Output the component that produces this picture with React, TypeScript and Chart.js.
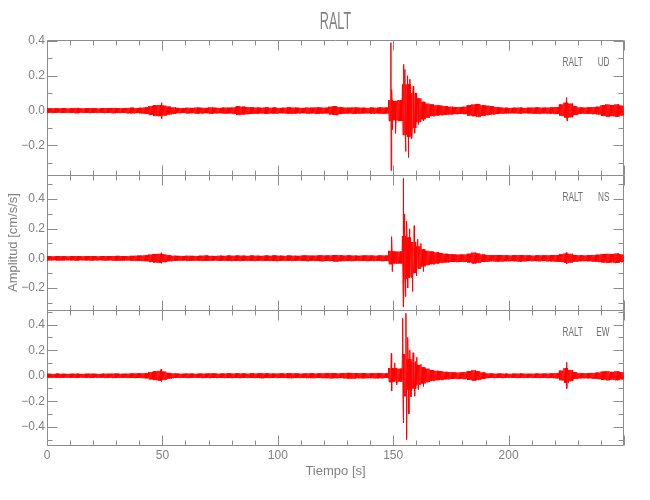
import { useEffect, useRef } from 'react';
import { Chart, registerables } from 'chart.js';

Chart.register(...registerables);

// ---------------- data ----------------
const station = 'RALT';
const components = ['UD', 'NS', 'EW'];
const BIN = 2; // seconds per envelope bin (bins start at t = 0)

// Dense-core envelope of each trace, in thousandths of cm/s/s, one value per 2-s bin (0..250 s)
const udUp = [
  12, 13, 12, 14, 12, 13, 15, 12, 13, 14, 13, 12, 14, 13, 15, 14, 13, 15, 16, 14,
  16, 18, 25, 30, 32, 28, 22, 18,
  15, 14, 16, 15, 17, 16, 15, 18, 16, 15, 17, 16, 18,
  25, 22, 20, 18,
  17, 16, 18, 16, 17, 15, 16, 18, 17, 16, 15, 17, 16, 18, 17, 16,
  22, 26, 20,
  17, 16, 18, 17, 16, 15, 17, 16, 18, 17,
  60, 55, 60, 150, 150, 100, 70, 50, 40, 35, 30, 28, 25, 22, 20, 20, 22, 30, 35, 38, 30, 28, 25, 20,
  17, 16, 15, 16, 17, 15, 16, 17, 18, 16, 17, 18, 20,
  35, 45, 40, 25,
  18, 17, 18, 20, 22,
  30, 35, 32, 35, 28,
];
const udDown = [
  12, 13, 12, 14, 12, 13, 15, 12, 13, 14, 13, 12, 14, 13, 15, 14, 13, 15, 16, 14,
  16, 18, 25, 30, 32, 28, 22, 18,
  15, 14, 16, 15, 17, 16, 15, 18, 16, 15, 17, 16, 18,
  25, 22, 20, 18,
  17, 16, 18, 16, 17, 15, 16, 18, 17, 16, 15, 17, 16, 18, 17, 16,
  22, 26, 20,
  17, 16, 18, 17, 16, 15, 17, 16, 18, 17,
  60, 55, 60, 140, 150, 100, 65, 50, 40, 32, 28, 26, 24, 22, 20, 19, 20, 28, 32, 35, 30, 25, 22, 20,
  17, 16, 15, 16, 17, 15, 16, 17, 18, 16, 17, 18, 20,
  30, 40, 38, 25,
  18, 17, 18, 20, 22,
  30, 35, 32, 35, 28,
];
const nsUp = [
  14, 13, 15, 14, 13, 14, 15, 13, 14, 15, 14, 13, 15, 14, 15, 16, 15, 14, 16, 17,
  18, 20, 25, 28, 30, 26, 20, 17,
  16, 15, 17, 16, 15, 17, 18, 16, 15, 17, 16, 18, 17,
  18, 17, 16, 18, 17, 16, 18, 17, 19, 17, 16, 18, 17, 16, 18, 19, 17, 18, 20, 18,
  19, 22, 20, 18, 19, 18, 17, 18, 19, 18, 17, 19, 18,
  50, 45, 45, 150, 140, 110, 80, 60, 50, 45, 40, 35, 30, 28, 25, 25, 25, 30, 38, 32, 25,
  22, 20, 22, 21, 20, 19, 20, 22, 20, 19, 18, 20, 19, 20, 21, 22,
  28, 32, 30, 22,
  20, 19, 20, 22, 24,
  28, 30, 28, 32, 25,
];
const nsDown = [
  14, 13, 15, 14, 13, 14, 15, 13, 14, 15, 14, 13, 15, 14, 15, 16, 15, 14, 16, 17,
  18, 20, 25, 28, 30, 26, 20, 17,
  16, 15, 17, 16, 15, 17, 18, 16, 15, 17, 16, 18, 17,
  18, 17, 16, 18, 17, 16, 18, 17, 19, 17, 16, 18, 17, 16, 18, 19, 17, 18, 20, 18,
  19, 22, 20, 18, 19, 18, 17, 18, 19, 18, 17, 19, 18,
  40, 35, 35, 140, 130, 100, 70, 55, 45, 40, 35, 30, 28, 25, 25, 25, 24, 28, 35, 30, 25,
  22, 20, 22, 21, 20, 19, 20, 22, 20, 19, 18, 20, 19, 20, 21, 22,
  25, 30, 28, 22,
  20, 19, 20, 22, 24,
  28, 30, 28, 32, 25,
];
const ewUp = [
  15, 14, 16, 15, 14, 15, 16, 14, 15, 16, 15, 14, 16, 15, 17, 16, 15, 16, 17, 18,
  18, 20, 28, 34, 38, 32, 22, 18,
  16, 15, 17, 16, 15, 17, 16, 18, 17, 16, 17, 18, 17, 18, 17, 16, 18, 17, 19, 18,
  17, 16, 18, 17, 19, 18, 17, 16, 18, 19, 17, 18, 19, 20, 19, 18, 20, 22, 21, 19,
  20, 18, 19, 20, 19, 18,
  60, 60, 55, 170, 130, 110, 85, 65, 55, 45, 38, 35, 30, 28, 25, 25, 28, 35, 42, 35, 25,
  18, 17, 16, 17, 16, 15, 16, 17, 16, 15, 16, 17, 16, 17, 18, 20,
  40, 60, 45, 28,
  20, 19, 20, 22, 25,
  32, 35, 30, 35, 28,
];
const ewDown = [
  15, 14, 16, 15, 14, 15, 16, 14, 15, 16, 15, 14, 16, 15, 17, 16, 15, 16, 17, 18,
  18, 20, 28, 34, 38, 32, 22, 18,
  16, 15, 17, 16, 15, 17, 16, 18, 17, 16, 17, 18, 17, 18, 17, 16, 18, 17, 19, 18,
  17, 16, 18, 17, 19, 18, 17, 16, 18, 19, 17, 18, 19, 20, 19, 18, 20, 22, 21, 19,
  20, 18, 19, 20, 19, 18,
  50, 45, 45, 160, 110, 100, 70, 60, 50, 40, 35, 32, 28, 26, 24, 25, 26, 32, 38, 32, 25,
  18, 17, 16, 17, 16, 15, 16, 17, 16, 15, 16, 17, 16, 17, 18, 20,
  35, 55, 42, 25,
  20, 19, 20, 22, 25,
  32, 35, 30, 35, 28,
];

// Individual peaks (time s, amplitude cm/s/s)
const udSpikeT = [49.5, 49.8, 149.0, 149.1, 149.4, 149.6, 151.0, 154.6, 155.1, 155.4, 156.2, 156.5, 157.2, 158.0, 158.7, 159.3, 160.1, 160.9, 162.0, 163.0, 225.0, 225.4];
const udSpikeV = [0.045, -0.045, 0.39, -0.344, 0.12, -0.11, -0.13, 0.265, 0.236, -0.235, 0.2, -0.27, 0.18, -0.16, 0.14, -0.13, 0.1, -0.08, 0.07, -0.06, 0.075, -0.06];
const nsSpikeT = [49.5, 49.7, 149.3, 149.5, 154.3, 154.5, 154.9, 155.3, 155.8, 156.3, 157.0, 158.4, 159.1, 160.0, 160.6, 162.0, 163.0, 225.0, 225.3];
const nsSpikeV = [0.038, -0.035, 0.146, -0.09, 0.54, -0.33, 0.3, -0.26, 0.25, -0.2, 0.2, -0.225, 0.22, -0.12, 0.13, 0.1, -0.09, 0.04, -0.038];
const ewSpikeT = [49.4, 49.7, 149.2, 149.4, 150.6, 151.5, 154.1, 154.4, 155.5, 155.8, 156.3, 156.8, 157.2, 157.7, 158.6, 159.3, 160.2, 160.8, 162.0, 163.0, 225.0, 225.3];
const ewSpikeV = [0.05, -0.047, 0.175, -0.12, 0.1, -0.07, 0.45, -0.37, 0.49, -0.5, 0.3, -0.3, 0.2, -0.165, 0.18, -0.16, 0.145, -0.11, 0.09, -0.085, 0.105, -0.1];

// Axes
const xRange = [0, 250];
const xTickValues = [0, 50, 100, 150, 200];
const udRange = [-0.37, 0.405];
const nsRange = [-0.35, 0.563];
const ewRange = [-0.543, 0.515];
const udTicks = [-0.2, 0, 0.2, 0.4];
const nsTicks = [-0.2, 0, 0.2, 0.4];
const ewTicks = [-0.4, -0.2, 0, 0.2, 0.4];

// ---------------- styling ----------------
const FONT = "'Liberation Sans', Arial, sans-serif";
const AXIS = '#8c8c8c';
const TEXT = '#808080';
const RED = '#ff0000';
const STEPS = 8; // drawn samples per envelope bin

function buildTrace(up: number[], down: number[], st: number[], sv: number[]) {
  const pts: { x: number; y: number }[] = [];
  for (let i = 0; i < up.length; i++) {
    for (let k = 0; k < STEPS; k++) {
      pts.push({ x: i * BIN + (k * BIN) / STEPS, y: k % 2 === 0 ? up[i] / 1000 : -down[i] / 1000 });
    }
  }
  st.forEach((t, j) => pts.push({ x: t, y: sv[j] }));
  pts.sort((a, b) => a.x - b.x);
  return pts;
}

const fmtY = (v: number) => {
  const s = Math.abs(v) < 1e-9 ? '0.0' : v.toFixed(1);
  return s.replace('-', '\u2212');
};

function condensedText(ctx: any, text: string, x: number, y: number, sx: number, align: string) {
  ctx.save();
  ctx.translate(x, y);
  ctx.scale(sx, 1);
  ctx.textAlign = align;
  ctx.fillText(text, 0, 0);
  ctx.restore();
}

const panelIds = ['yUD', 'yNS', 'yEW'];

const framePlugin = {
  id: 'frame',
  beforeDatasetsDraw(chart: any) {
    const ctx = chart.ctx;
    const xs = chart.scales.x;
    ctx.save();
    ctx.strokeStyle = AXIS;
    ctx.lineWidth = 1;
    for (const id of panelIds) {
      const ys = chart.scales[id];
      const L = Math.round(xs.left) + 0.5;
      const R = Math.round(xs.right) - 0.5;
      const T = Math.round(ys.top) + 0.5;
      const B = Math.round(ys.bottom) + 0.5;
      ctx.beginPath();
      ctx.moveTo(L, T); ctx.lineTo(R, T);
      ctx.moveTo(L, B); ctx.lineTo(R, B);
      ctx.moveTo(L, T); ctx.lineTo(L, B);
      ctx.moveTo(R, T); ctx.lineTo(R, B);
      for (let v = xRange[0]; v <= xRange[1] + 1e-9; v += 10) {
        const px = Math.round(xs.getPixelForValue(v)) + 0.5;
        const len = Math.abs(v % 50) < 1e-9 ? 10 : 5;
        ctx.moveTo(px, T); ctx.lineTo(px, T + len);
        ctx.moveTo(px, B); ctx.lineTo(px, B - len);
      }
      const start = Math.ceil(ys.min * 10 - 1e-9);
      const end = Math.floor(ys.max * 10 + 1e-9);
      for (let n = start; n <= end; n++) {
        const py = Math.round(ys.getPixelForValue(n / 10)) + 0.5;
        const len = n % 2 === 0 ? 10 : 5;
        ctx.moveTo(L, py); ctx.lineTo(L + len, py);
        ctx.moveTo(R, py); ctx.lineTo(R - len, py);
      }
      ctx.stroke();
    }
    ctx.restore();
  },
  afterDatasetsDraw(chart: any) {
    const ctx = chart.ctx;
    const xs = chart.scales.x;
    ctx.save();
    ctx.fillStyle = TEXT;
    ctx.textBaseline = 'alphabetic';
    ctx.font = `23px ${FONT}`;
    condensedText(ctx, station, (xs.left + xs.right) / 2, 29, 0.55, 'center');
    ctx.fillStyle = '#6e6e6e';
    ctx.font = `13px ${FONT}`;
    panelIds.forEach((id, i) => {
      const ys = chart.scales[id];
      const by = ys.top + 26;
      condensedText(ctx, station, xs.right - 61.5, by, 0.63, 'left');
      condensedText(ctx, components[i], xs.right - 14.5, by, 0.63, 'right');
    });
    ctx.restore();
  },
};

function yScale(range: number[], ticks: number[], weight: number, title?: string) {
  return {
    type: 'linear',
    position: 'left',
    stack: 'panels',
    stackWeight: 1,
    weight,
    min: range[0],
    max: range[1],
    grid: { display: false, drawTicks: false },
    border: { display: false },
    afterBuildTicks: (s: any) => {
      s.ticks = ticks.map((v) => ({ value: v }));
    },
    afterFit: (s: any) => {
      s.width = 47;
    },
    ticks: {
      autoSkip: false,
      padding: 2,
      color: TEXT,
      font: { family: FONT, size: 12 },
      callback: (v: any) => fmtY(Number(v)),
    },
    title: {
      display: !!title,
      text: title || '',
      color: TEXT,
      font: { family: FONT, size: 13 },
      padding: { top: 6, bottom: 0 },
    },
  };
}

export default function App() {
  const ref = useRef<HTMLCanvasElement>(null);
  useEffect(() => {
    document.body.style.margin = '0';
    const chart = new Chart(ref.current as HTMLCanvasElement, {
      type: 'line',
      data: {
        datasets: [
          { data: buildTrace(udUp, udDown, udSpikeT, udSpikeV), yAxisID: 'yUD', xAxisID: 'x' },
          { data: buildTrace(nsUp, nsDown, nsSpikeT, nsSpikeV), yAxisID: 'yNS', xAxisID: 'x' },
          { data: buildTrace(ewUp, ewDown, ewSpikeT, ewSpikeV), yAxisID: 'yEW', xAxisID: 'x' },
        ].map((d) => ({
          ...d,
          borderColor: RED,
          backgroundColor: RED,
          borderWidth: 1,
          pointRadius: 0,
          fill: false,
          tension: 0,
        })) as any,
      },
      options: {
        responsive: false,
        animation: false,
        devicePixelRatio: 1,
        layout: { padding: { left: 0, right: 26, top: 40, bottom: 0 } },
        plugins: {
          legend: { display: false },
          tooltip: { enabled: false },
          title: { display: false },
        },
        scales: {
          x: {
            type: 'linear',
            position: 'bottom',
            min: xRange[0],
            max: xRange[1],
            grid: { display: false, drawTicks: false },
            border: { display: false },
            afterBuildTicks: (s: any) => {
              s.ticks = xTickValues.map((v) => ({ value: v }));
            },
            afterFit: (s: any) => {
              s.height = 55;
            },
            ticks: {
              autoSkip: false,
              maxRotation: 0,
              padding: 3,
              color: TEXT,
              font: { family: FONT, size: 12 },
              callback: (v: any) => String(v),
            },
            title: {
              display: true,
              text: 'Tiempo [s]',
              color: TEXT,
              font: { family: FONT, size: 13 },
              padding: { top: 0, bottom: 21 },
            },
          },
          yUD: yScale(udRange, udTicks, 3),
          yNS: yScale(nsRange, nsTicks, 2, 'Amplitud [cm/s/s]'),
          yEW: yScale(ewRange, ewTicks, 1),
        } as any,
      },
      plugins: [framePlugin],
    } as any);
    return () => chart.destroy();
  }, []);
  return (
    <div style={{ width: 650, height: 500 }}>
      <canvas ref={ref} width={650} height={500} style={{ display: 'block' }} />
    </div>
  );
}
